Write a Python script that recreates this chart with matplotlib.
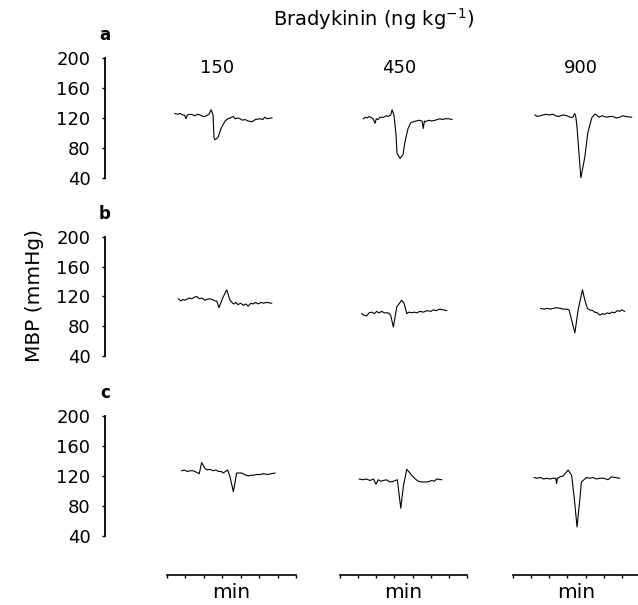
import matplotlib.pyplot as plt

W, H = 638, 605

doses = ["150", "450", "900"]
row_letters = ["a", "b", "c"]
mbp_ticks = [40, 80, 120, 160, 200]
time_ticks = [0, 1, 2, 3, 4, 5, 6, 7]

# row a - MBP traces (time in min, MBP in mmHg)
a150_t = [0.43, 0.60, 0.71, 0.85, 0.95, 1.03, 1.10, 1.30, 1.52, 1.65, 1.80, 1.95, 2.06, 2.20,
          2.28, 2.39, 2.50, 2.55, 2.60, 2.77, 2.93, 3.15, 3.30, 3.42, 3.60, 3.69, 3.85, 3.96,
          4.10, 4.23, 4.40, 4.61, 4.80, 5.05, 5.20, 5.30, 5.45, 5.59, 5.70]
a150_mbp = [126, 125, 126, 124, 124, 119, 124, 125, 123, 125, 124, 122, 122, 124,
            125, 131, 124, 94, 91, 94, 106, 116, 119, 120, 122, 119, 120, 119,
            117, 118, 116, 115, 118, 119, 118, 121, 119, 120, 120]

a450_t = [1.28, 1.40, 1.49, 1.60, 1.70, 1.82, 1.93, 2.00, 2.10, 2.20, 2.40, 2.55, 2.65, 2.80,
          2.87, 2.98, 3.09, 3.14, 3.31, 3.47, 3.58, 3.75, 3.91, 4.19, 4.35, 4.52, 4.59, 4.65,
          4.69, 4.90, 5.05, 5.24, 5.50, 5.65, 5.79, 6.00, 6.17]
a450_mbp = [119, 121, 120, 122, 121, 119, 113, 119, 118, 121, 121, 123, 122, 124,
            131, 123, 97, 73, 66, 71, 88, 106, 114, 116, 117, 116, 106, 116,
            115, 117, 116, 117, 119, 118, 119, 119, 118]

a900_t = [1.21, 1.35, 1.50, 1.65, 1.80, 2.00, 2.20, 2.35, 2.50, 2.75, 2.97, 3.15, 3.30, 3.40,
          3.46, 3.52, 3.74, 3.96, 4.12, 4.34, 4.50, 4.62, 4.75, 4.90, 5.16, 5.35, 5.50, 5.70,
          5.88, 6.05, 6.20, 6.54]
a900_mbp = [124, 122, 123, 124, 125, 124, 125, 123, 122, 124, 123, 121, 121, 126,
            122, 110, 40, 68, 100, 120, 125, 124, 121, 123, 121, 122, 122, 120,
            121, 123, 122, 121]

# row b
b150_t = [0.61, 0.75, 0.85, 0.95, 1.07, 1.20, 1.35, 1.48, 1.61, 1.75, 1.90, 2.05, 2.15, 2.30,
          2.45, 2.60, 2.70, 2.82, 3.02, 3.24, 3.42, 3.60, 3.75, 3.85, 4.00, 4.14, 4.28, 4.40,
          4.55, 4.68, 4.80, 4.95, 5.10, 5.23, 5.40, 5.68]
b150_mbp = [117, 114, 116, 115, 116, 118, 117, 119, 120, 117, 118, 115, 116, 117,
            116, 114, 114, 105, 118, 129, 115, 110, 112, 109, 111, 108, 110, 107,
            111, 110, 112, 110, 112, 111, 112, 111]

b450_t = [1.20, 1.30, 1.47, 1.60, 1.75, 1.90, 2.02, 2.15, 2.30, 2.45, 2.66, 2.79, 2.94, 3.13,
          3.40, 3.53, 3.68, 3.80, 3.95, 4.10, 4.23, 4.40, 4.60, 4.80, 5.00, 5.14, 5.30, 5.50,
          5.70, 5.88]
b450_mbp = [97, 95, 94, 98, 99, 97, 100, 98, 100, 98, 98, 95, 79, 106,
            115, 111, 97, 99, 98, 99, 98, 100, 99, 101, 100, 102, 101, 103,
            102, 101]

b900_t = [1.52, 1.70, 1.90, 2.05, 2.21, 2.40, 2.60, 2.80, 2.95, 3.09, 3.41, 3.59, 3.83, 3.96,
          4.10, 4.23, 4.40, 4.50, 4.65, 4.78, 4.95, 5.05, 5.20, 5.33, 5.45, 5.60, 5.75, 5.88,
          6.00, 6.15]
b900_mbp = [104, 103, 104, 103, 104, 105, 104, 103, 103, 102, 71, 102, 129, 115,
            104, 102, 101, 99, 98, 95, 97, 96, 98, 97, 99, 98, 101, 100,
            102, 100]

# row c
c150_t = [0.80, 0.95, 1.10, 1.25, 1.43, 1.60, 1.75, 1.88, 2.06, 2.20, 2.30, 2.51, 2.65, 2.80,
          2.95, 3.05, 3.29, 3.42, 3.60, 3.78, 4.05, 4.20, 4.41, 4.55, 4.70, 4.85, 5.05, 5.25,
          5.45, 5.65, 5.86]
c150_mbp = [127, 128, 126, 127, 127, 125, 123, 138, 130, 128, 129, 127, 128, 126,
            126, 124, 128, 119, 99, 124, 124, 122, 120, 121, 121, 122, 122, 123,
            122, 123, 124]

c450_t = [1.06, 1.25, 1.47, 1.65, 1.85, 1.98, 2.11, 2.25, 2.40, 2.55, 2.76, 2.95, 3.16, 3.35,
          3.49, 3.68, 3.95, 4.15, 4.32, 4.50, 4.78, 4.95, 5.05, 5.20, 5.33, 5.61]
c450_mbp = [116, 115, 116, 114, 116, 109, 115, 113, 114, 115, 112, 113, 115, 77,
            106, 129, 121, 116, 113, 112, 112, 113, 114, 113, 116, 115]

c900_t = [1.17, 1.30, 1.50, 1.70, 1.85, 2.05, 2.20, 2.36, 2.40, 2.45, 2.60, 2.76, 3.04, 3.23,
          3.37, 3.53, 3.68, 3.77, 4.05, 4.20, 4.40, 4.60, 4.78, 5.00, 5.24, 5.42, 5.60, 5.88]
c900_mbp = [118, 117, 118, 116, 117, 116, 117, 117, 110, 117, 119, 120, 128, 121,
            92, 52, 88, 112, 118, 117, 118, 116, 117, 117, 115, 119, 118, 117]

traces = [
    [(a150_t, a150_mbp), (a450_t, a450_mbp), (a900_t, a900_mbp)],
    [(b150_t, b150_mbp), (b450_t, b450_mbp), (b900_t, b900_mbp)],
    [(c150_t, c150_mbp), (c450_t, c450_mbp), (c900_t, c900_mbp)],
]

# pixel layout of the original figure
row_px = [(58, 178), (237, 356), (416, 536)]   # y of 200 and 40 mmHg
col_px = [(167, 296), (340, 467), (513, 640)]  # x extent of each time axis
axis_x = 105
time_axis_y = 575


def px_box(left, top, right, bottom):
    return [left / W, 1 - bottom / H, (right - left) / W, (bottom - top) / H]


plt.rcParams['font.family'] = 'DejaVu Sans'
plt.rcParams['mathtext.default'] = 'regular'

fig = plt.figure(figsize=(W / 100, H / 100), dpi=100)

for r, (top, bottom) in enumerate(row_px):
    # the MBP scale of each row
    yax = fig.add_axes(px_box(axis_x, top, axis_x + 4, bottom))
    yax.set_facecolor('none')
    yax.set_ylim(40, 200)
    yax.set_yticks(mbp_ticks)
    yax.set_xticks([])
    for side in ['top', 'right', 'bottom']:
        yax.spines[side].set_visible(False)
    yax.spines['left'].set_linewidth(1.3)
    yax.tick_params(axis='y', length=2.5, width=1, pad=8, labelsize=13)

    fig.text(axis_x / W, 1 - (top - 23) / H, row_letters[r], fontsize=12,
             fontweight='bold', ha='center', va='center')

    for c, (left, right) in enumerate(col_px):
        t, mbp = traces[r][c]
        tax = fig.add_axes(px_box(left, top, right, bottom))
        tax.set_xlim(0, 7)
        tax.set_ylim(40, 200)
        tax.axis('off')
        tax.plot(t, mbp, color='black', linewidth=0.8)

for c, (left, right) in enumerate(col_px):
    xax = fig.add_axes(px_box(left, time_axis_y - 5, right, time_axis_y))
    xax.set_facecolor('none')
    xax.set_xlim(0, 7)
    xax.set_xticks(time_ticks)
    xax.set_xticklabels([])
    xax.set_yticks([])
    for side in ['top', 'right', 'left']:
        xax.spines[side].set_visible(False)
    xax.spines['bottom'].set_linewidth(1.2)
    xax.tick_params(axis='x', length=2.5, width=1, direction='out')

    fig.text((left + right) / 2 / W, 1 - 592 / H, "min", fontsize=14.5,
             ha='center', va='center')

header_x = [217, 399, 581]
for c, dose in enumerate(doses):
    fig.text(header_x[c] / W, 1 - 68 / H, dose, fontsize=13, ha='center', va='center')

fig.text(374 / W, 1 - 19 / H, "Bradykinin (ng kg$^{-1}$)", fontsize=14,
         ha='center', va='center')
fig.text(35 / W, 1 - 296 / H, "MBP (mmHg)", fontsize=14.5, rotation=90,
         ha='center', va='center')

fig.savefig("out.png", dpi=100)
